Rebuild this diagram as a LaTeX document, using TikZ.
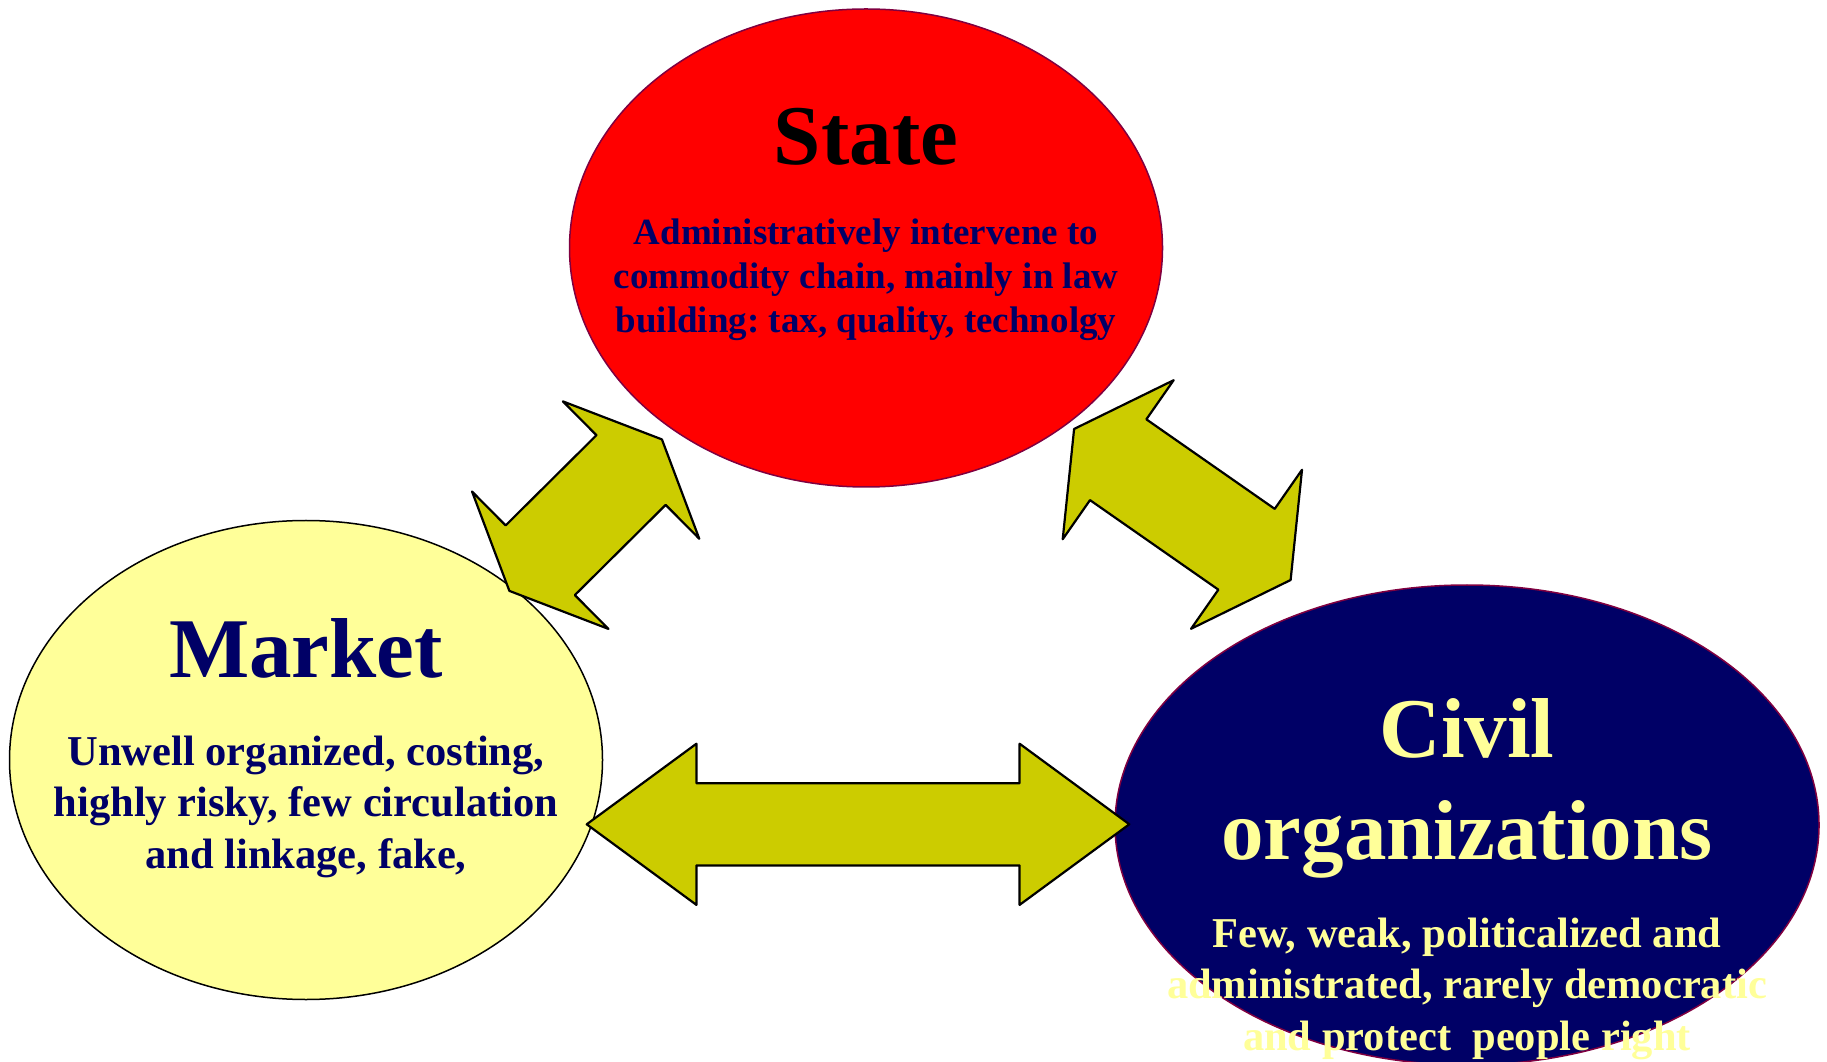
\documentclass[tikz,border=0pt]{standalone}
\usepackage{fontspec}
\setmainfont{Liberation Serif}
\usetikzlibrary{shapes.geometric,shapes.arrows}
\definecolor{navy}{RGB}{0,0,102}
\definecolor{paleyellow}{RGB}{255,255,153}
\definecolor{arrowyellow}{RGB}{204,204,0}
\definecolor{rim}{RGB}{128,0,64}
\frenchspacing
\begin{document}
\begin{tikzpicture}[x=1pt,y=1pt,line join=round,
  blob/.style={ellipse,inner sep=0pt,line width=1.5pt},
  head/.style={font=\fontsize{85}{102}\selectfont\bfseries,align=center,anchor=base,inner sep=0pt},
  body/.style={font=\fontsize{42.5}{51.5}\selectfont\bfseries,align=center,anchor=base,inner sep=0pt},
  fatarrow/.style={double arrow,draw=black,line width=2.2pt,fill=arrowyellow,inner xsep=0pt}]
\useasboundingbox (0,0) rectangle (1827,1061);
% the three sectors
\node[blob,draw=rim,fill=red,minimum width=593,minimum height=478] (state) at (866,813) {};
\node[blob,draw=black,fill=paleyellow,minimum width=593,minimum height=479] (market) at (306,301) {};
\node[blob,draw=rim,fill=navy,minimum width=704,minimum height=480] (civil) at (1467,236) {};
% links between them
\node[fatarrow,minimum height=215,inner ysep=48,double arrow head extend=47.7,
  double arrow tip angle=131.6,rotate=44.8] (marketstate) at (585.65,545.85) {};
\node[fatarrow,minimum height=264,inner ysep=48.15,double arrow head extend=47.7,
  double arrow tip angle=122,rotate=-34.9] (statecivil) at (1182.35,556.5) {};
\node[fatarrow,minimum height=542.6,inner ysep=40,double arrow head extend=39.5,
  double arrow tip angle=72.6] (marketcivil) at (858,236.7) {};
% texts (base = last line)
\node[head,text=black] (statename) at ([yshift=83]state.center) {State};
\node[body,text=navy,font=\fontsize{37}{44}\selectfont\bfseries] (statetext) at ([yshift=-85]state.center)
  {Administratively intervene to\\commodity chain, mainly in law\\building: tax, quality, technolgy};
\node[head,text=navy] (marketname) at ([yshift=83]market.center) {Market};
\node[body,text=navy] (markettext) at ([yshift=-108]market.center)
  {Unwell organized, costing,\\highly risky, few circulation\\and linkage, fake,};
\node[head,text=paleyellow] (civilname) at ([yshift=-34]civil.center) {Civil\\organizations};
\node[body,text=paleyellow] (civiltext) at ([yshift=-225]civil.center)
  {Few, weak, politicalized and\\administrated, rarely democratic\\and protect\ \ people right};
\end{tikzpicture}
\end{document}
